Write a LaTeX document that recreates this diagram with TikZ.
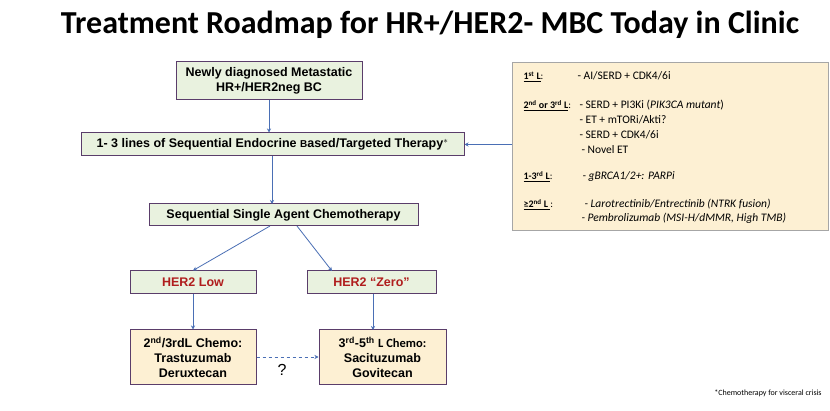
\documentclass[tikz,border=0pt]{standalone}
\usepackage{fontspec}
\setmainfont{Liberation Sans}
\newfontfamily\calfont{Carlito}
\usetikzlibrary{arrows.meta}
\definecolor{gfill}{HTML}{E9F2DF}
\definecolor{yfill}{HTML}{FDF0D3}
\definecolor{bord}{HTML}{5A3D6A}
\definecolor{arr}{HTML}{4A6FB5}
\definecolor{hred}{HTML}{B01E1E}
\tikzset{
 gbox/.style={draw=bord,line width=1pt,fill=gfill,font=\bfseries\fontsize{12.5}{14.5}\selectfont,align=center,inner sep=0pt},
 ybox/.style={draw=bord,line width=1pt,fill=yfill,font=\bfseries\fontsize{12.5}{15}\selectfont,align=center,inner sep=0pt},
 conn/.style={draw=arr,line width=0.8pt,-{Stealth[length=4pt,width=4pt]}},
 lab/.style={anchor=base west,font=\calfont\bfseries\fontsize{10}{12}\selectfont}
}
\begin{document}
\begin{tikzpicture}[x=1pt,y=-1pt]
\useasboundingbox[fill=white] (0,0) rectangle (830,411);
\node[font=\calfont\bfseries\fontsize{32}{36}\selectfont] (title) at (430,25) {Treatment Roadmap for HR+/HER2- MBC Today in Clinic};
\node[gbox,minimum width=186pt,minimum height=38pt] (top) at (269,81) {Newly diagnosed Metastatic\\HR+/HER2neg BC};
\node[gbox,minimum width=383pt,minimum height=23pt] (endo) at (272.5,144.5) {1- 3 lines of Sequential Endocrine {\fontsize{10}{12}\selectfont B}ased/Targeted Therapy$^{*}$};
\node[gbox,minimum width=269pt,minimum height=22pt] (chemo) at (283.5,215) {Sequential Single Agent Chemotherapy};
\node[gbox,minimum width=126pt,minimum height=23pt,text=hred] (low) at (193,282.5) {HER2 Low};
\node[gbox,minimum width=129pt,minimum height=23pt,text=hred] (zero) at (371.5,282.5) {HER2 “Zero”};
\node[ybox,minimum width=126pt,minimum height=55pt] (tdx) at (193,357.5) {2\textsuperscript{nd}/3rdL Chemo:\\Trastuzumab\\Deruxtecan};
\node[ybox,minimum width=127pt,minimum height=55pt] (sg) at (382.5,357.5) {3\textsuperscript{rd}-5\textsuperscript{th} {\calfont\fontsize{12.5}{14}\selectfont L Chemo:}\\Sacituzumab\\Govitecan};
\node[draw=gray!70,line width=0.6pt,fill=yfill,minimum width=316pt,minimum height=168pt,inner sep=0pt] (right) at (670,146) {};
\node[lab] (l1) at (520,80) {\underline{1\textsuperscript{st} L}{\mdseries:}};
\node[lab] (l2) at (520,109) {\underline{2\textsuperscript{nd} or 3\textsuperscript{rd} L}{\mdseries:}};
\node[lab] (l3) at (520,180) {\underline{1-3\textsuperscript{rd} L}{\mdseries:}};
\node[lab] (l4) at (520,208) {\underline{≥2\textsuperscript{nd} L }{\mdseries:}};
\begin{scope}[font=\calfont\fontsize{11.5}{13}\selectfont]
\node[anchor=base west] (t1) at (574,80) {- AI/SERD + CDK4/6i};
\node[anchor=base west] (t2) at (576,109) {- SERD + PI3Ki (\textit{PIK3CA mutant})};
\node[anchor=base west] (t3) at (576,124) {- ET + mTORi/Akti?};
\node[anchor=base west] (t4) at (576,139) {- SERD + CDK4/6i};
\node[anchor=base west] (t5) at (578,154) {- Novel ET};
\node[anchor=base west] (t6) at (579,180) {\textit{- gBRCA1/2+: PARPi}};
\node[anchor=base west] (t7) at (581,208) {\textit{- Larotrectinib/Entrectinib (NTRK fusion)}};
\node[anchor=base west] (t8) at (578,222) {\textit{- Pembrolizumab (MSI-H/dMMR, High TMB)}};
\end{scope}
\node[font=\calfont\fontsize{8}{9}\selectfont] (foot) at (768,393) {*Chemotherapy for visceral crisis};
\node[font=\fontsize{16}{18}\selectfont] (q) at (282,370) {?};
\draw[conn] (top) -- (top.south|-endo.north);
\draw[conn] (272,156) -- (272,204);
\draw[conn] (270,226) -- (low.north);
\draw[conn] (297,226) -- (332,271);
\draw[conn] (low) -- (tdx);
\draw[conn] (373,294) -- (373,330);
\draw[conn,dashed] (tdx.east|-0,357) -- (sg.west|-0,357);
\draw[conn] (right.west|-endo) -- (endo.east);
\end{tikzpicture}
\end{document}
